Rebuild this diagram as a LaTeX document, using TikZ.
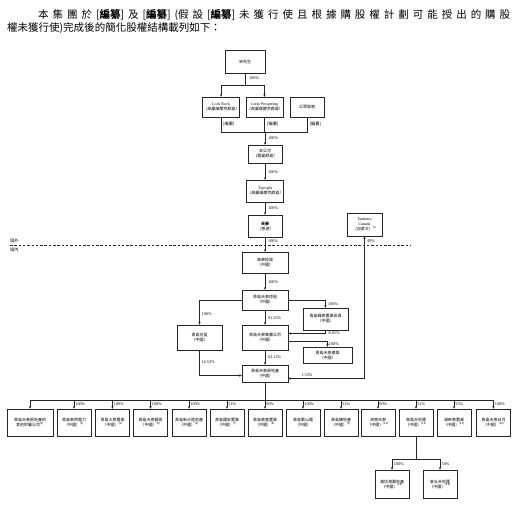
\documentclass[tikz,border=0pt]{standalone}
\usepackage{fontspec}
\setmainfont{Liberation Serif}
\newfontfamily\cjk[AutoFakeSlant=0.2]{Noto Sans CJK TC}
\usetikzlibrary{arrows.meta,calc}
\tikzset{
  box/.style={draw=black!85,line width=0.45pt,fill=white,align=center,inner sep=0.5pt,
    font=\cjk\fontsize{4}{5}\selectfont},
  pct/.style={inner sep=0pt,font=\rmfamily\fontsize{4.2}{5}\selectfont},
  ln/.style={draw=black!85,line width=0.45pt},
  arr/.style={ln,-{Stealth[length=2.6pt,width=2.2pt]}},
  arrb/.style={ln,{Stealth[length=2.6pt,width=2.2pt]}-{Stealth[length=2.6pt,width=2.2pt]}},
}
\newcommand\Bx[6]{\node[box,minimum width=#4pt,minimum height=#5pt] (#1) at (#2,#3) {#6};}
\newcommand\Bot[4]{%
  \node[box,minimum width=34pt,minimum height=27pt] (#1) at (#2,422.5) {#3};
  \draw[arr] (#1.north |- bus) -- (#1.north);
  \node[pct,anchor=west] (#1p) at (#2+1.2,404.5) {#4};}
\begin{document}
\begin{tikzpicture}[x=1pt,y=-1pt]
\useasboundingbox (0,0) rectangle (518,505);
% heading
\node[anchor=base west,inner sep=0pt,font=\cjk\fontsize{10.5}{12}\selectfont] (h1) at (38,19)
 {\makebox[472pt][s]{本\hfil 集\hfil 團\hfil 於\hfil [\textbf{編纂}]\hfil 及\hfil [\textbf{編纂}]\hfil (假\hfil 設\hfil [\textbf{編纂}]\hfil 未\hfil 獲\hfil 行\hfil 使\hfil 且\hfil 根\hfil 據\hfil 購\hfil 股\hfil 權\hfil 計\hfil 劃\hfil 可\hfil 能\hfil 授\hfil 出\hfil 的\hfil 購\hfil 股}};
\node[anchor=base west,inner sep=0pt,font=\cjk\fontsize{10.5}{12}\selectfont] (h2) at (7,32)
 {權未獲行使)完成後的簡化股權結構載列如下：};
% boxes
\Bx{top}{245}{61.5}{40}{23}{宋先生}
\Bx{lock}{221}{107}{36}{20}{{\rmfamily Lock Rock}\\{\itshape（英屬維爾京群島）}}
\Bx{hero}{264.5}{107}{35}{20}{{\rmfamily Great Prospering}\\{\itshape（英屬維爾京群島）}}
\Bx{pub}{307}{107}{34}{20}{公眾股東}
\Bx{comp}{265}{154}{34}{18}{本公司\\{\itshape（開曼群島）}}
\Bx{topr}{265}{191}{34}{22}{{\rmfamily Topright}\\{\itshape（英屬維爾京群島）}}
\Bx{hk}{265}{226}{34}{22}{\textbf{天泰}\\{\itshape（香港）}}
\Bx{tant}{364.5}{224.5}{35}{23}{{\rmfamily Tantimes}\\{\rmfamily Canada}\\{\itshape（加拿大）}\textsuperscript{(1)}}
\Bx{gaotai}{265}{262.5}{46}{21}{高泰投資\\（中國）}
\Bx{hold}{265}{300}{46}{20}{青島天泰控股\\（中國）}
\Bx{huitai}{325.5}{319}{45}{22}{青島輝泰置業投資\\（中國）}
\Bx{heying}{199.5}{337.5}{45}{25}{青島合盈\\（中國）}
\Bx{group}{265}{337.5}{46}{25}{青島天泰集團公司\\（中國）}
\Bx{jz}{327.5}{355}{49}{16}{青島天泰建築\\（中國）}
\Bx{realty}{265}{373.5}{46}{17}{青島天泰房地產\\（中國）}
% top connectors
\coordinate (j1) at (245,85);
\draw[ln] (top.south) -- (j1);
\draw[ln] (j1) -- (lock.north |- j1);
\draw[arr] (lock.north |- j1) -- (lock.north);
\draw[ln] (j1) -- (hero.north |- j1);
\draw[arr] (hero.north |- j1) -- (hero.north);
\node[pct,anchor=west] (p0) at (249,78) {100\%};
\coordinate (j2) at (265,132);
\draw[ln] (lock.south) -- (lock.south |- j2) -- (pub.south |- j2) -- (pub.south);
\draw[ln] (hero.south) -- (hero.south |- j2);
\draw[arr] (j2) -- (comp.north);
\node[pct,anchor=west,font=\cjk\fontsize{4.2}{5}\selectfont] (e1) at (223,124.5) {[編纂]};
\node[pct,anchor=west,font=\cjk\fontsize{4.2}{5}\selectfont] (e2) at (267,124.5) {[編纂]};
\node[pct,anchor=west,font=\cjk\fontsize{4.2}{5}\selectfont] (e3) at (309.5,124.5) {[編纂]};
\node[pct,anchor=west] (p1) at (268,138) {100\%};
\draw[arr] (comp) -- (topr);
\node[pct,anchor=west] (p2) at (268,172) {100\%};
\draw[arr] (topr) -- (hk);
\node[pct,anchor=west] (p3) at (268,208) {100\%};
% border line
\coordinate (d1) at (10,245);
\coordinate (d2) at (410,245);
\draw[ln,dash pattern=on 2.5pt off 1.8pt] (d1) -- (d2);
\node[pct,anchor=west,font=\cjk\fontsize{4.2}{5}\selectfont] (ow) at (10,240.5) {境外};
\node[pct,anchor=west,font=\cjk\fontsize{4.2}{5}\selectfont] (iw) at (10,250) {境內};
\draw[arr] (hk) -- (gaotai);
\node[pct,anchor=west] (p4) at (268,241.5) {100\%};
\draw[arr] (gaotai) -- (hold);
\node[pct,anchor=west] (p5) at (268,282) {100\%};
\draw[arr] (hold) -- (group);
\node[pct,anchor=west] (p6) at (268,318) {91.35\%};
\draw[arr] (hold.east) -| (huitai.north);
\node[pct,anchor=west] (p7) at (328,304) {100\%};
\draw[arr] (hold.west) -| (heying.north);
\node[pct,anchor=west] (p8) at (201.5,314) {100\%};
\draw[arr] (huitai.south) |- ([yshift=4pt]group.east);
\node[pct,anchor=west] (p9) at (328.5,333.5) {8.65\%};
\draw[arr] ([yshift=-4pt]group.east) -| (jz.north);
\node[pct,anchor=west] (p10) at (328.5,344) {100\%};
\draw[arr] (group) -- (realty);
\node[pct,anchor=west] (p11) at (268,357) {62.12\%};
\draw[arr] (heying.south) |- ([yshift=-2pt]realty.west);
\node[pct,anchor=west] (p12) at (201.5,362) {16.53\%};
\draw[arrb] (tant.south) |- ([yshift=-5pt]realty.east);
\node[pct,anchor=south] (p13) at (307,377.2) {1.33\%};
\node[pct,anchor=west] (p14) at (367,241.5) {49\%};
% bottom row
\coordinate (bus) at (265,400);
\draw[ln] (realty.south) -- (bus);
\draw[ln] (30,400) coordinate (bl) -- (493.5,400) coordinate (br);
\node[box,minimum width=46pt,minimum height=27pt] (b1) at (30,422.5) {青島天泰房地產的\\其他附屬公司\textsuperscript{(2)}};
\draw[arr] (b1.north |- bus) -- (b1.north);
\Bot{b2}{74}{青島泰西電力\\（中國）\textsuperscript{(3)}}{100\%}
\Bot{b3}{112.5}{青島大泰置業\\（中國）\textsuperscript{(4)}}{100\%}
\Bot{b4}{150.5}{青島天泰藝術\\（中國）\textsuperscript{(5)}}{100\%}
\Bot{b5}{189}{青島新大陸地產\\（中國）\textsuperscript{(6)}}{100\%}
\Bot{b6}{227}{青島國宏置業\\（中國）\textsuperscript{(7)}}{51\%}
\Bot{b7}{265}{青島泰富置業\\（中國）\textsuperscript{(8)}}{90\%}
\Bot{b8}{303}{青島繁山電\\（中國）}{100\%}
\Bot{b9}{341}{青島錦地產\\（中國）\textsuperscript{(9)}}{51\%}
\Bot{b10}{378}{濟南天泰\\（中國）\textsuperscript{(10)}}{90\%}
\Bot{b11}{416}{青島天地匯\\（中國）\textsuperscript{(11)}}{51\%}
\Bot{b12}{454}{湖畔泰置業\\（中國）\textsuperscript{(12)}}{55\%}
\Bot{b13}{493.5}{青島天泰日月\\（中國）\textsuperscript{(13)}}{100\%}
% sub row
\coordinate (sbus) at (416,459);
\draw[ln] (b11.south) -- (sbus);
\Bx{sa}{392}{484}{34}{28}{濰坊海鳳地產\\（中國）\textsuperscript{(14)}}
\Bx{sb}{440}{484}{34}{28}{安丘天地匯\\（中國）\textsuperscript{(15)}}
\draw[ln] (sa.north |- sbus) -- (sb.north |- sbus);
\draw[arr] (sa.north |- sbus) -- (sa.north);
\draw[arr] (sb.north |- sbus) -- (sb.north);
\node[pct,anchor=west] (q1) at (393.5,464) {100\%};
\node[pct,anchor=west] (q2) at (441.5,464) {50\%};
\end{tikzpicture}
\end{document}
